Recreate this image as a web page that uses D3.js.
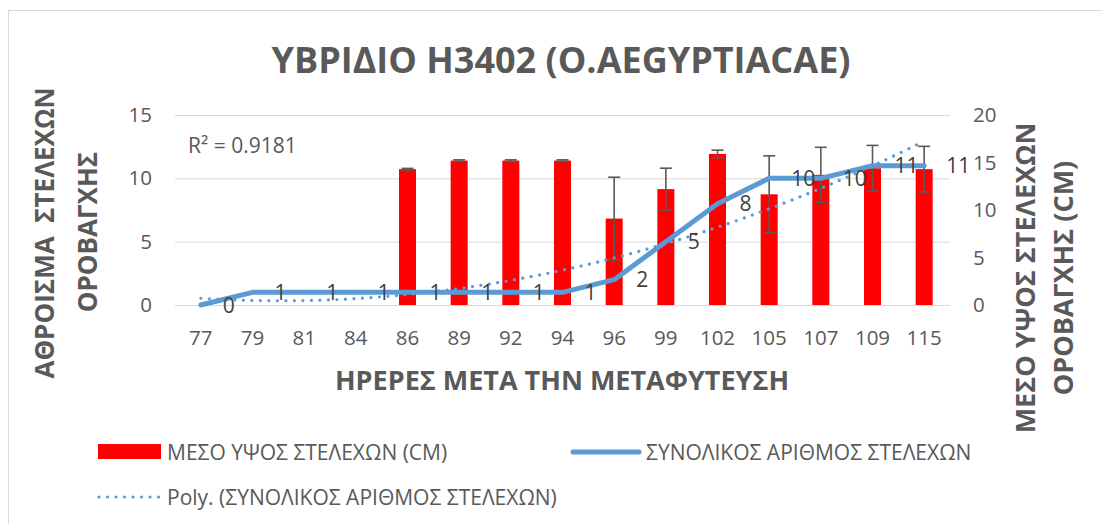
<!DOCTYPE html>
<html><head><meta charset="utf-8">
<script src="https://cdn.jsdelivr.net/npm/d3@7"></script>
<style>
html,body{margin:0;padding:0;background:#fff;}
text{font-family:"Open Sans",sans-serif;}
</style></head>
<body>
<svg id="chart" width="1102" height="524"></svg>
<script>
// ---- data ----
const categories = ["77","79","81","84","86","89","92","94","96","99","102","105","107","109","115"];
const stemCount = [0,1,1,1,1,1,1,1,2,5,8,10,10,11,11];           // left axis, line
const meanHeight = [null,null,null,null,14.3,15.2,15.2,15.2,9.1,12.2,15.9,11.65,13.7,14.4,14.3]; // right axis, bars
const heightError = [null,null,null,null,0.08,0.08,0.08,0.08,4.35,2.2,0.4,4.05,2.9,2.4,2.4];
const leftTicks = [0,5,10,15];
const rightTicks = [0,5,10,15,20];
const titleText = "ΥΒΡΙΔΙΟ H3402 (O.AEGYPTIACAE)";
const xTitle = "ΗΡΕΡΕΣ ΜΕΤΑ ΤΗΝ ΜΕΤΑΦΥΤΕΥΣΗ";
const leftTitle = ["ΑΘΡΟΙΣΜΑ  ΣΤΕΛΕΧΩΝ","ΟΡΟΒΑΓΧΗΣ"];
const rightTitle = ["ΜΕΣΟ ΥΨΟΣ ΣΤΕΛΕΧΩΝ","ΟΡΟΒΑΓΧΗΣ (CM)"];
const legendNames = ["ΜΕΣΟ ΥΨΟΣ ΣΤΕΛΕΧΩΝ (CM)","ΣΥΝΟΛΙΚΟΣ ΑΡΙΘΜΟΣ ΣΤΕΛΕΧΩΝ","Poly. (ΣΥΝΟΛΙΚΟΣ ΑΡΙΘΜΟΣ ΣΤΕΛΕΧΩΝ)"];
const r2Label = "R² = 0.9181";

// ---- layout ----
const svg = d3.select("#chart");
const L = 175, R = 950, T = 115, B = 305;
const grey = "#595959", blue = "#5B9BD5", red = "#FF0000";
const tickFont = "20.5px", labelFont = "21px", legendFont = "21px";

svg.append("rect").attr("x",8.5).attr("y",10.5).attr("width",1200).attr("height",700)
  .attr("fill","#fff").attr("stroke","#D9D9D9").attr("stroke-width",1);

const x = d3.scaleBand().domain(categories).range([L,R]).padding(0);
const cx = c => x(c) + x.bandwidth()/2;
const yL = d3.scaleLinear().domain([0,15]).range([B,T]);
const yR = d3.scaleLinear().domain([0,20]).range([B,T]);

// gridlines (left axis)
const gLeft = svg.append("g").attr("transform",`translate(${L},0)`)
  .call(d3.axisLeft(yL).tickValues(leftTicks).tickSize(-(R-L)).tickPadding(23));
gLeft.select(".domain").remove();
gLeft.selectAll(".tick line").attr("stroke","#D9D9D9").attr("stroke-width",1);
gLeft.selectAll(".tick text").attr("fill",grey).style("font-size",tickFont).style("font-family","Open Sans");

const gRight = svg.append("g").attr("transform",`translate(${R},0)`)
  .call(d3.axisRight(yR).tickValues(rightTicks).tickSize(0).tickPadding(23));
gRight.select(".domain").remove();
gRight.selectAll(".tick text").attr("fill",grey).style("font-size",tickFont).style("font-family","Open Sans");

const gX = svg.append("g").attr("transform",`translate(0,${B})`)
  .call(d3.axisBottom(x).tickSize(0).tickPadding(25));
gX.select(".domain").remove();
gX.selectAll(".tick text").attr("fill",grey).style("font-size",tickFont).style("font-family","Open Sans");

// bars
const barData = categories.map((c,i)=>({c, v:meanHeight[i], e:heightError[i]})).filter(d=>d.v!=null);
const bw = 17;
svg.append("g").selectAll("rect").data(barData).join("rect")
  .attr("x",d=>cx(d.c)-bw/2).attr("width",bw)
  .attr("y",d=>yR(d.v)).attr("height",d=>yR(0)-yR(d.v)).attr("fill",red);

// error bars
const eg = svg.append("g").attr("stroke",grey).attr("stroke-width",1.6).attr("fill","none");
barData.forEach(d=>{
  const x0 = cx(d.c), cap = 6;
  eg.append("line").attr("x1",x0).attr("x2",x0).attr("y1",yR(d.v+d.e)).attr("y2",yR(d.v-d.e));
  eg.append("line").attr("x1",x0-cap).attr("x2",x0+cap).attr("y1",yR(d.v+d.e)).attr("y2",yR(d.v+d.e));
  eg.append("line").attr("x1",x0-cap).attr("x2",x0+cap).attr("y1",yR(d.v-d.e)).attr("y2",yR(d.v-d.e));
});

// line
const lineData = categories.map((c,i)=>({c, v:stemCount[i]}));
svg.append("path").datum(lineData)
  .attr("d", d3.line().x(d=>cx(d.c)).y(d=>yL(d.v)))
  .attr("fill","none").attr("stroke",blue).attr("stroke-width",5)
  .attr("stroke-linejoin","round").attr("stroke-linecap","round");

// polynomial (order 2) trendline fitted to the line series, x = 1..n
function polyFit(xs, ys, order){
  const n = order+1;
  const A = Array.from({length:n},()=>Array(n+1).fill(0));
  xs.forEach((xv,k)=>{
    for(let i=0;i<n;i++){
      for(let j=0;j<n;j++) A[i][j]+=Math.pow(xv,i+j);
      A[i][n]+=ys[k]*Math.pow(xv,i);
    }
  });
  for(let i=0;i<n;i++){
    let p=i; for(let r=i+1;r<n;r++) if(Math.abs(A[r][i])>Math.abs(A[p][i])) p=r;
    [A[i],A[p]]=[A[p],A[i]];
    for(let r=0;r<n;r++){ if(r===i) continue; const f=A[r][i]/A[i][i]; for(let c=i;c<=n;c++) A[r][c]-=f*A[i][c]; }
  }
  return A.map((row,i)=>row[n]/row[i]);
}
const idx = categories.map((c,i)=>i+1);
const coef = polyFit(idx, stemCount, 2);
const xi = d3.scaleLinear().domain([1,categories.length]).range([cx(categories[0]), cx(categories[categories.length-1])]);
const trendPts = d3.range(1, categories.length+0.001, 0.1).map(t=>[t, coef[0]+coef[1]*t+coef[2]*t*t]);
svg.append("path").datum(trendPts)
  .attr("d", d3.line().x(d=>xi(d[0])).y(d=>yL(d[1])).curve(d3.curveLinear))
  .attr("fill","none").attr("stroke",blue).attr("stroke-width",3.2)
  .attr("stroke-dasharray","0.01 8.5").attr("stroke-linecap","round");

// data labels
svg.append("g").selectAll("text").data(lineData).join("text")
  .attr("x",d=>cx(d.c)+22).attr("y",d=>yL(d.v)).attr("dy","0.36em")
  .attr("fill","#404040").style("font-size",labelFont).text(d=>d.v);

// R² label
svg.append("text").attr("x",188).attr("y",145).attr("dy","0.36em")
  .attr("fill",grey).style("font-size",labelFont).text(r2Label);

// title
svg.append("text").attr("x",561).attr("y",60).attr("dy","0.36em").attr("text-anchor","middle")
  .attr("fill",grey).style("font-size","36px").style("font-weight","bold").text(titleText);

// axis titles
svg.append("text").attr("x",562).attr("y",380).attr("dy","0.36em").attr("text-anchor","middle")
  .attr("fill",grey).style("font-size","27px").style("font-weight","bold").text(xTitle);
[[45,233,leftTitle[0],"26px"],[88,232,leftTitle[1],"26px"],[1025,278,rightTitle[0],"27px"],[1063,278,rightTitle[1],"27px"]].forEach(([tx,ty,s,fs])=>{
  svg.append("text").attr("transform",`translate(${tx},${ty}) rotate(-90)`).attr("dy","0.36em")
    .attr("text-anchor","middle").attr("fill",grey).style("font-size",fs).style("font-weight","bold")
    .style("white-space","pre").text(s);
});

// legend
const lg = svg.append("g");
lg.append("rect").attr("x",98).attr("y",444).attr("width",63).attr("height",15).attr("fill",red);
lg.append("text").attr("x",167).attr("y",452).attr("dy","0.36em").attr("fill",grey).style("font-size",legendFont).text(legendNames[0]);
lg.append("line").attr("x1",573).attr("x2",639).attr("y1",452).attr("y2",452)
  .attr("stroke",blue).attr("stroke-width",5).attr("stroke-linecap","round");
lg.append("text").attr("x",646).attr("y",452).attr("dy","0.36em").attr("fill",grey).style("font-size",legendFont).text(legendNames[1]);
lg.append("line").attr("x1",99).attr("x2",160).attr("y1",497).attr("y2",497)
  .attr("stroke",blue).attr("stroke-width",3.2).attr("stroke-dasharray","0.01 8.5").attr("stroke-linecap","round");
lg.append("text").attr("x",167).attr("y",497).attr("dy","0.36em").attr("fill",grey).style("font-size",legendFont).text(legendNames[2]);
</script>
</body></html>
